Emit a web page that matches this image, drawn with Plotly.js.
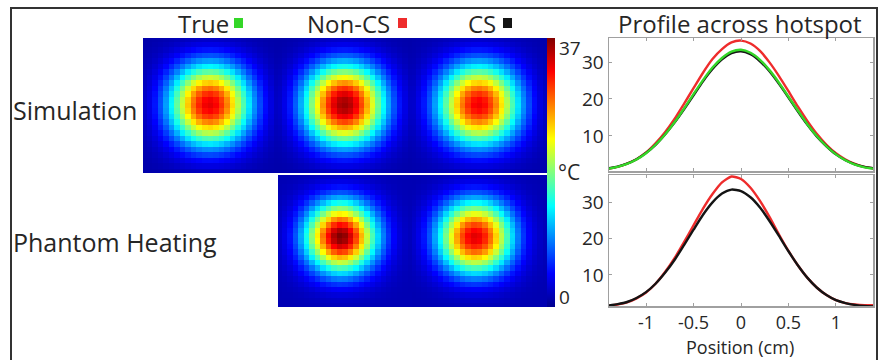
<!DOCTYPE html>
<html>
<head>
<meta charset="utf-8">
<script src="https://cdn.plot.ly/plotly-3.0.1.min.js"></script>
<style>
  html, body { margin: 0; padding: 0; background: #ffffff; }
  #chart { width: 883px; height: 360px; }
</style>
</head>
<body>
<div id="chart"></div>
<script>
// ---------- data ----------
const positionCm = [-1.4,-1.3,-1.2,-1.1,-1.0,-0.9,-0.8,-0.7,-0.6,-0.5,-0.4,-0.3,-0.2,-0.1,0.0,0.1,0.2,0.3,0.4,0.5,0.6,0.7,0.8,0.9,1.0,1.1,1.2,1.3,1.4];

// Simulation profiles (°C)
const simTrue  = [1.1,1.6,2.4,3.6,5.3,7.6,10.4,13.7,17.4,21.3,25.1,28.5,31.1,32.8,33.3,32.5,30.6,27.8,24.4,20.6,16.8,13.1,9.9,7.2,5.0,3.4,2.2,1.5,1.1];
const simNonCS = [1.1,1.6,2.5,3.7,5.5,8.0,11.0,14.6,18.7,22.9,27.1,30.8,33.5,35.3,35.8,35.0,33.0,29.9,26.2,22.1,17.9,14.0,10.5,7.6,5.3,3.6,2.4,1.6,1.2];
const simCS    = [1.2,1.7,2.5,3.7,5.4,7.6,10.4,13.6,17.2,21.0,24.8,28.1,30.7,32.4,32.9,32.1,30.2,27.5,24.1,20.4,16.6,13.0,9.8,7.2,5.0,3.4,2.3,1.6,1.2];

// Phantom heating profiles (°C)
const phNonCS  = [1.5,1.9,2.5,3.6,5.2,7.6,10.8,14.6,19.0,23.6,28.2,32.2,35.4,37.0,36.3,33.9,30.3,25.9,21.1,16.6,12.6,9.2,6.5,4.5,3.1,2.3,1.9,1.7,1.7];
const phCS     = [1.6,2.0,2.6,3.7,5.3,7.6,10.6,14.1,18.2,22.4,26.5,29.9,32.3,33.4,33.0,31.3,28.5,24.8,20.7,16.5,12.6,9.2,6.5,4.5,3.1,2.3,1.8,1.5,1.4];

const columnLabels = ['True', 'Non-CS', 'CS'];
const rowLabels = ['Simulation', 'Phantom Heating'];
const seriesColors = { 'True': 'rgb(52,214,40)', 'Non-CS': 'rgb(238,44,44)', 'CS': 'rgb(20,20,20)' };
const tempTicks = [10, 20, 30];
const posTicks = [-1, -0.5, 0, 0.5, 1];
const posTickText = ['-1', '-0.5', '0', '0.5', '1'];
const cbarRange = [0, 37];

// ---------- helpers ----------
const W = 883, H = 360;
const px = v => v / W;
const py = v => (H - v) / H;

// 2-D map of a hotspot from its profile across it (separable)
function mapFromProfile(p) {
  const b = Math.min(...p), pk = Math.max(...p);
  return p.map(vy => p.map(vx => b + (vx - b) * (vy - b) / (pk - b)));
}

const jet = [[0,'rgb(0,0,143)'],[0.125,'rgb(0,0,255)'],[0.375,'rgb(0,255,255)'],
             [0.625,'rgb(255,255,0)'],[0.875,'rgb(255,0,0)'],[1,'rgb(128,0,0)']];

const FONT = '"Open Sans", "Noto Sans", sans-serif';
const TXT = '#262626';

const panels = [
  { prof: simTrue,  x: [143, 278], y: [38, 173] },
  { prof: simNonCS, x: [278, 412], y: [38, 173] },
  { prof: simCS,    x: [412, 547], y: [38, 173] },
  { prof: phNonCS,  x: [278, 412], y: [175, 307] },
  { prof: phCS,     x: [412, 547], y: [175, 307] }
];
const mapHalfWidth = 1.22;

const traces = [];
const layout = {
  width: W, height: H,
  margin: { l: 0, r: 0, t: 0, b: 0 },
  paper_bgcolor: '#ffffff', plot_bgcolor: '#ffffff',
  showlegend: false,
  font: { family: FONT, color: TXT },
  annotations: [], shapes: []
};

panels.forEach((pn, i) => {
  const n = i + 1;
  const xa = n === 1 ? 'x' : 'x' + n;
  const ya = n === 1 ? 'y' : 'y' + n;
  traces.push({
    type: 'heatmap', x: positionCm, y: positionCm, z: mapFromProfile(pn.prof),
    xaxis: xa, yaxis: ya, colorscale: jet, zmin: cbarRange[0], zmax: cbarRange[1],
    zsmooth: false, hoverinfo: 'skip',
    showscale: n === 1,
    colorbar: n === 1 ? {
      x: px(547), xanchor: 'left', xpad: 0, ypad: 0,
      y: py(307), yanchor: 'bottom', len: (307 - 38) / H, lenmode: 'fraction',
      thickness: 8, thicknessmode: 'pixels', outlinewidth: 0,
      tickvals: [0, 37], showticklabels: false, ticks: ''
    } : undefined
  });
  const axKey = n === 1 ? '' : String(n);
  layout['xaxis' + axKey] = { domain: [px(pn.x[0]), px(pn.x[1])], range: [-mapHalfWidth, mapHalfWidth],
    visible: false, anchor: ya, fixedrange: true };
  layout['yaxis' + axKey] = { domain: [py(pn.y[1]), py(pn.y[0])], range: [mapHalfWidth, -mapHalfWidth],
    visible: false, anchor: xa, fixedrange: true };
});

// profile line plots
const profilePlots = [
  { n: 6, y: [38, 171], range: [0.5, 36.5], series: [['Non-CS', simNonCS], ['CS', simCS], ['True', simTrue]], showX: false },
  { n: 7, y: [175, 306], range: [1.5, 37.4], series: [['Non-CS', phNonCS], ['CS', phCS]], showX: true }
];
profilePlots.forEach(pp => {
  pp.series.forEach(([name, vals]) => {
    traces.push({ type: 'scatter', mode: 'lines', x: positionCm, y: vals, name: name,
      xaxis: 'x' + pp.n, yaxis: 'y' + pp.n, hoverinfo: 'skip',
      line: { color: seriesColors[name], width: 2.4, shape: 'spline', smoothing: 0.6 } });
  });
  layout['xaxis' + pp.n] = {
    domain: [px(609), px(873)], range: [-1.39, 1.39], anchor: 'y' + pp.n,
    showline: true, linecolor: '#a0a0a0', linewidth: 1.5, mirror: 'ticks',
    ticks: 'inside', ticklen: 3, tickcolor: '#a0a0a0', tickvals: posTicks, ticktext: posTickText,
    showticklabels: pp.showX, showgrid: false, zeroline: false,
    tickfont: { family: FONT, size: 18, color: TXT },
    fixedrange: true
  };
  layout['yaxis' + pp.n] = {
    domain: [py(pp.y[1]), py(pp.y[0])], range: pp.range, anchor: 'x' + pp.n,
    showline: true, linecolor: '#a0a0a0', linewidth: 1.5, mirror: 'ticks',
    ticks: 'inside', ticklen: 3, tickcolor: '#a0a0a0', tickvals: tempTicks,
    showgrid: false, zeroline: false,
    tickfont: { family: FONT, size: 19, color: TXT }, fixedrange: true
  };
});

// texts
const ann = layout.annotations;
const addText = (text, x, y, size, xanchor) => ann.push({
  text: text, xref: 'paper', yref: 'paper', x: px(x), y: py(y),
  xanchor: xanchor || 'center', yanchor: 'middle', showarrow: false,
  font: { family: FONT, size: size, color: TXT }
});
addText(columnLabels[0], 203, 24, 24);
addText(columnLabels[1], 348, 24, 24);
addText(columnLabels[2], 482, 24, 24);
addText('Profile across hotspot', 740, 24, 24);
addText(rowLabels[0], 11, 110, 25, 'left');
addText(rowLabels[1], 11, 242, 25, 'left');
addText(String(cbarRange[1]), 557, 48, 19, 'left');
addText(String(cbarRange[0]), 557, 297, 19, 'left');
addText('°C', 556, 172, 21, 'left');
// x-axis title of the profile plots
ann.push({ text: 'Position (cm)', xref: 'paper', yref: 'paper', x: px(740), y: 0,
  xanchor: 'center', yanchor: 'bottom', showarrow: false, borderpad: 0,
  font: { family: FONT, size: 18, color: TXT } });

// colour swatches next to column labels
const sw = (x0, name) => layout.shapes.push({ type: 'rect', xref: 'paper', yref: 'paper',
  x0: px(x0), x1: px(x0 + 9), y0: py(28), y1: py(18),
  fillcolor: seriesColors[name], line: { width: 0 } });
sw(234, 'True'); sw(398, 'Non-CS'); sw(503, 'CS');

// outer frame
layout.shapes.push({ type: 'rect', xref: 'paper', yref: 'paper',
  x0: px(11), x1: px(877), y0: -0.05, y1: py(8),
  line: { color: '#333333', width: 2 }, fillcolor: 'rgba(0,0,0,0)' });

Plotly.newPlot('chart', traces, layout, { displayModeBar: false, staticPlot: true });
</script>
</body>
</html>
